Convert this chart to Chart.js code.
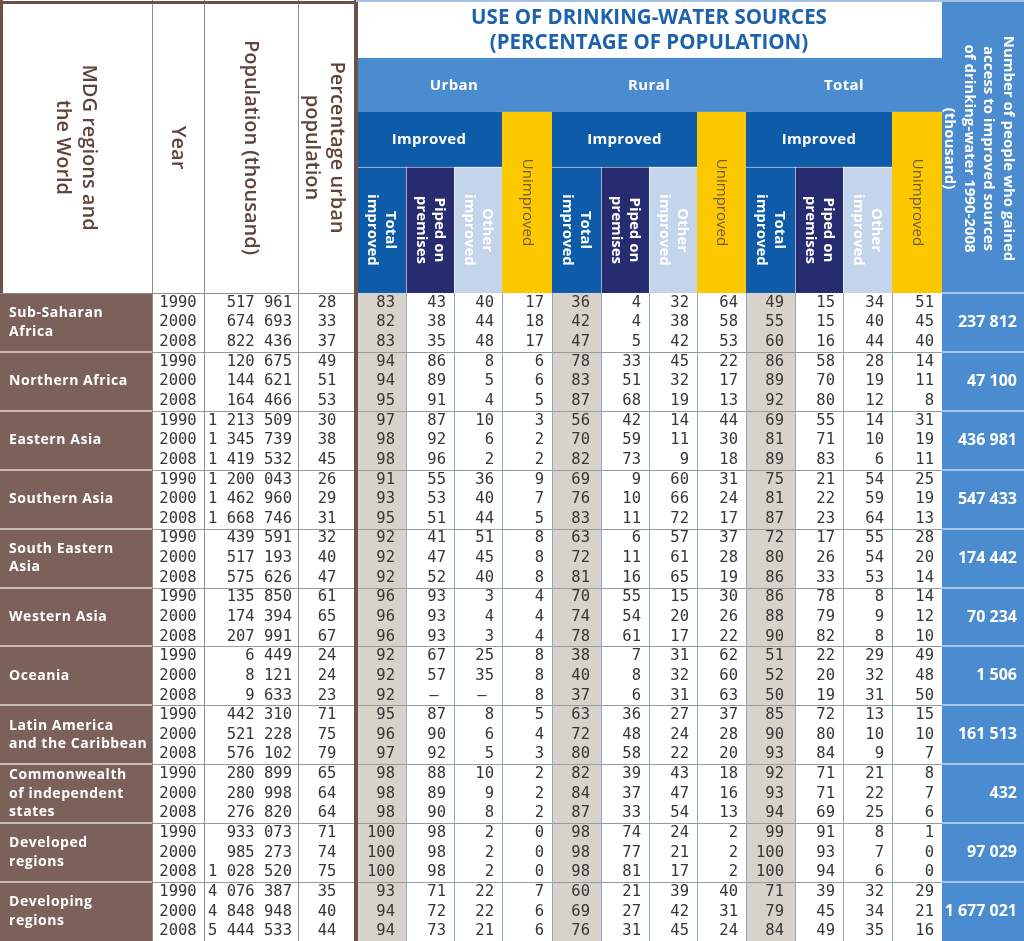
<!DOCTYPE html>
<html>
<head>
<meta charset="utf-8">
<title>Use of drinking-water sources</title>
<script src="https://cdn.jsdelivr.net/npm/chart.js@4.4.1/dist/chart.umd.min.js"></script>
<style>
  html, body { margin: 0; padding: 0; background: #fff; }
  #wrap { width: 1024px; height: 941px; }
</style>
</head>
<body>
<div id="wrap"><canvas id="waterTable" width="1024" height="941"></canvas></div>
<script>
// ===============================
// DATA
// ===============================
const regions = [
  "Sub-Saharan\nAfrica", "Northern Africa", "Eastern Asia", "Southern Asia",
  "South Eastern\nAsia", "Western Asia", "Oceania", "Latin America\nand the Caribbean",
  "Commonwealth\nof independent\nstates", "Developed\nregions", "Developing\nregions"
];
const years = [1990, 2000, 2008];

const population = [517961, 674693, 822436, 120675, 144621, 164466, 1213509, 1345739, 1419532,
  1200043, 1462960, 1668746, 439591, 517193, 575626, 135850, 174394, 207991, 6449, 8121, 9633,
  442310, 521228, 576102, 280899, 280998, 276820, 933073, 985273, 1028520, 4076387, 4848948, 5444533];
const urbanShare = [28, 33, 37, 49, 51, 53, 30, 38, 45, 26, 29, 31, 32, 40, 47, 61, 65, 67,
  24, 24, 23, 71, 75, 79, 65, 64, 64, 71, 74, 75, 35, 40, 44];

const urbanTotal = [83, 82, 83, 94, 94, 95, 97, 98, 98, 91, 93, 95, 92, 92, 92, 96, 96, 96,
  92, 92, 92, 95, 96, 97, 98, 98, 98, 100, 100, 100, 93, 94, 94];
const urbanPiped = [43, 38, 35, 86, 89, 91, 87, 92, 96, 55, 53, 51, 41, 47, 52, 93, 93, 93,
  67, 57, null, 87, 90, 92, 88, 89, 90, 98, 98, 98, 71, 72, 73];
const urbanOther = [40, 44, 48, 8, 5, 4, 10, 6, 2, 36, 40, 44, 51, 45, 40, 3, 4, 3,
  25, 35, null, 8, 6, 5, 10, 9, 8, 2, 2, 2, 22, 22, 21];
const urbanUnimproved = [17, 18, 17, 6, 6, 5, 3, 2, 2, 9, 7, 5, 8, 8, 8, 4, 4, 4,
  8, 8, 8, 5, 4, 3, 2, 2, 2, 0, 0, 0, 7, 6, 6];

const ruralTotal = [36, 42, 47, 78, 83, 87, 56, 70, 82, 69, 76, 83, 63, 72, 81, 70, 74, 78,
  38, 40, 37, 63, 72, 80, 82, 84, 87, 98, 98, 98, 60, 69, 76];
const ruralPiped = [4, 4, 5, 33, 51, 68, 42, 59, 73, 9, 10, 11, 6, 11, 16, 55, 54, 61,
  7, 8, 6, 36, 48, 58, 39, 37, 33, 74, 77, 81, 21, 27, 31];
const ruralOther = [32, 38, 42, 45, 32, 19, 14, 11, 9, 60, 66, 72, 57, 61, 65, 15, 20, 17,
  31, 32, 31, 27, 24, 22, 43, 47, 54, 24, 21, 17, 39, 42, 45];
const ruralUnimproved = [64, 58, 53, 22, 17, 13, 44, 30, 18, 31, 24, 17, 37, 28, 19, 30, 26, 22,
  62, 60, 63, 37, 28, 20, 18, 16, 13, 2, 2, 2, 40, 31, 24];

const totalTotal = [49, 55, 60, 86, 89, 92, 69, 81, 89, 75, 81, 87, 72, 80, 86, 86, 88, 90,
  51, 52, 50, 85, 90, 93, 92, 93, 94, 99, 100, 100, 71, 79, 84];
const totalPiped = [15, 15, 16, 58, 70, 80, 55, 71, 83, 21, 22, 23, 17, 26, 33, 78, 79, 82,
  22, 20, 19, 72, 80, 84, 71, 71, 69, 91, 93, 94, 39, 45, 49];
const totalOther = [34, 40, 44, 28, 19, 12, 14, 10, 6, 54, 59, 64, 55, 54, 53, 8, 9, 8,
  29, 32, 31, 13, 10, 9, 21, 22, 25, 8, 7, 6, 32, 34, 35];
const totalUnimproved = [51, 45, 40, 14, 11, 8, 31, 19, 11, 25, 19, 13, 28, 20, 14, 14, 12, 10,
  49, 48, 50, 15, 10, 7, 8, 7, 6, 1, 0, 0, 29, 21, 16];

const gained = [237812, 47100, 436981, 547433, 174442, 70234, 1506, 161513, 432, 97029, 1677021];

// ===============================
// LAYOUT / STYLE
// ===============================
const C = {
  brown: "#7b615a",
  brownLine: "#6a514a",
  headText: "#60433b",
  title: "#1c62ad",
  midBlue: "#4b8bcf",
  darkBlue: "#0e5ba9",
  navy: "#272b70",
  lightBlue: "#c3d4eb",
  yellow: "#fcc800",
  yellowText: "#6f5c34",
  grey: "#d7d2ca",
  num: "#363636"
};

// column edges on the x scale (layout units)
const colEdges = [0, 152, 204, 298, 356, 406, 454, 502, 552, 601, 649, 697, 746, 795, 843, 892, 942, 1024];
// header bands on the y scale (row units)
const band = { title: 2.95, group: 5.70, improved: 8.50, header: 14.92 };
const rowCount = regions.length * years.length;

const dataCols = [
  urbanTotal, urbanPiped, urbanOther, urbanUnimproved,
  ruralTotal, ruralPiped, ruralOther, ruralUnimproved,
  totalTotal, totalPiped, totalOther, totalUnimproved
];
const groupNames = ["Urban", "Rural", "Total"];

const fmt = (n) => n === null ? "\u2013" : String(n).replace(/\B(?=(\d{3})+(?!\d))/g, " ");

const SANS = "'Open Sans', 'DejaVu Sans', sans-serif";
const MONO = "'DejaVu Sans Mono', monospace";

// ===============================
// PLUGIN QUE DESENHA A TABELA
// ===============================
const tablePlugin = {
  id: "waterTable",
  afterDraw(chart) {
    const ctx = chart.ctx;
    const xs = chart.scales.x;
    const ys = chart.scales.y;
    const X = (v) => xs.getPixelForValue(v);
    const Y = (v) => ys.getPixelForValue(v);

    function rect(x0, x1, y0, y1, color) {
      ctx.fillStyle = color;
      ctx.fillRect(X(x0), Y(y0), X(x1) - X(x0), Y(y1) - Y(y0));
    }
    function hline(x0, x1, y, color, w) {
      const py = Math.round(Y(y)) + (w % 2 ? 0.5 : 0);
      ctx.strokeStyle = color;
      ctx.lineWidth = w;
      ctx.beginPath();
      ctx.moveTo(X(x0), py);
      ctx.lineTo(X(x1), py);
      ctx.stroke();
    }
    function vline(x, y0, y1, color, w) {
      const px = Math.round(X(x)) + (w % 2 ? 0.5 : 0);
      ctx.strokeStyle = color;
      ctx.lineWidth = w;
      ctx.beginPath();
      ctx.moveTo(px, Y(y0));
      ctx.lineTo(px, Y(y1));
      ctx.stroke();
    }
    function text(str, x, y, font, color, align, spacing) {
      ctx.font = font;
      ctx.fillStyle = color;
      ctx.textAlign = align || "center";
      ctx.textBaseline = "middle";
      ctx.letterSpacing = spacing || "0px";
      ctx.fillText(str, x, y);
      ctx.letterSpacing = "0px";
    }
    // rotated text, reading top to bottom
    function vtext(lines, cx, cy, font, color, lineH, spacing) {
      ctx.save();
      ctx.translate(cx, cy);
      ctx.rotate(Math.PI / 2);
      ctx.font = font;
      ctx.fillStyle = color;
      ctx.textAlign = "center";
      ctx.textBaseline = "middle";
      ctx.letterSpacing = spacing || "0px";
      lines.forEach((l, i) => {
        ctx.fillText(l, 0, (i - (lines.length - 1) / 2) * lineH);
      });
      ctx.letterSpacing = "0px";
      ctx.restore();
    }
    const mid = (a, b) => (X(a) + X(b)) / 2;
    const midY = (a, b) => (Y(a) + Y(b)) / 2;

    const top = 0, hb = band.header, bottom = band.header + rowCount;
    const E = colEdges;

    ctx.save();

    // ---------- left header ----------
    rect(E[0], E[4], top, hb, "#ffffff");
    const hFont = "600 20px " + SANS;
    const hy = midY(top, hb) + 1;
    vtext(["MDG regions and", "the World"], mid(E[0], E[1]), hy, hFont, C.headText, 26);
    vtext(["Year"], mid(E[1], E[2]), hy, hFont, C.headText, 26);
    vtext(["Population (thousand)"], mid(E[2], E[3]), hy, hFont, C.headText, 26);
    vtext(["Percentage urban", "population"], mid(E[3], E[4]) - 3, hy, hFont, C.headText, 25);

    // ---------- title ----------
    rect(E[4], E[16], top, band.title, "#ffffff");
    const tFont = "bold 20.5px " + SANS;
    text("USE OF DRINKING-WATER SOURCES", mid(E[4], E[16]), Y(0.95), tFont, C.title);
    text("(PERCENTAGE OF POPULATION)", mid(E[4], E[16]), Y(2.2), tFont, C.title);

    // ---------- group row ----------
    rect(E[4], E[16], band.title, band.group, C.midBlue);
    const bFont = "bold 15px " + SANS;
    groupNames.forEach((g, gi) => {
      const a = E[4 + gi * 4], b = E[8 + gi * 4];
      text(g, (X(a) + X(b)) / 2, midY(band.title, band.group) + 1, bFont, "#ffffff", "center", "0.4px");
    });

    // ---------- improved + sub headers ----------
    groupNames.forEach((g, gi) => {
      const base = 4 + gi * 4;
      rect(E[base], E[base + 3], band.group, band.improved, C.darkBlue);
      text("Improved", mid(E[base], E[base + 3]), midY(band.group, band.improved), bFont, "#ffffff", "center", "0.3px");
      rect(E[base + 3], E[base + 4], band.group, hb, C.yellow);
      vtext(["Unimproved"], mid(E[base + 3], E[base + 4]), midY(band.group, hb), "15px " + SANS, C.yellowText, 18);

      rect(E[base], E[base + 1], band.improved, hb, C.darkBlue);
      rect(E[base + 1], E[base + 2], band.improved, hb, C.navy);
      rect(E[base + 2], E[base + 3], band.improved, hb, C.lightBlue);
      const sy = midY(band.improved, hb);
      vtext(["Total", "improved"], mid(E[base], E[base + 1]), sy, bFont, "#ffffff", 18);
      vtext(["Piped on", "premises"], mid(E[base + 1], E[base + 2]), sy, bFont, "#ffffff", 18);
      vtext(["Other", "improved"], mid(E[base + 2], E[base + 3]), sy, bFont, "#ffffff", 18);
      // white hairlines between subheaders
      vline(E[base + 1], band.improved, hb, "rgba(255,255,255,0.6)", 1);
      vline(E[base + 2], band.improved, hb, "rgba(255,255,255,0.6)", 1);
      hline(E[base], E[base + 3], band.improved, "rgba(255,255,255,0.5)", 1);
    });

    // ---------- last column ----------
    rect(E[16], E[17], top, bottom, C.midBlue);
    vtext(["Number of people who gained", "access to improved sources", "of drinking-water 1990-2008", "(thousand)"],
      mid(E[16], E[17]) - 4, midY(top, hb) + 2, bFont, "#ffffff", 19.5);

    // ---------- data body ----------
    rect(E[0], E[1], hb, bottom, C.brown);
    rect(E[1], E[4], hb, bottom, "#ffffff");
    rect(E[4], E[16], hb, bottom, "#ffffff");
    [0, 4, 8].forEach((o) => rect(E[4 + o], E[5 + o], hb, bottom, C.grey));

    const nFont = "15.5px " + MONO;
    const lFont = "bold 14px " + SANS;
    regions.forEach((name, ri) => {
      const g0 = hb + ri * 3;
      const lines = name.split("\n");
      lines.forEach((l, li) => {
        const yy = midY(g0, g0 + 3) + (li - (lines.length - 1) / 2) * 18.5;
        text(l, X(E[0]) + 9, yy, lFont, "#ffffff", "left", "0.55px");
      });
      text(fmt(gained[ri]), X(E[17]) - 7, midY(g0, g0 + 3), "bold 16px " + SANS, "#ffffff", "right");

      years.forEach((yr, yi) => {
        const r = ri * 3 + yi;
        const yy = midY(hb + r, hb + r + 1);
        text(String(yr), mid(E[1], E[2]), yy, nFont, C.num);
        text(fmt(population[r]), X(E[3]) - 6, yy, nFont, C.num, "right");
        text(String(urbanShare[r]), mid(E[3], E[4]), yy, nFont, C.num);
        dataCols.forEach((vals, ci) => {
          const v = vals[r];
          if (v === null) {
            text(fmt(v), mid(E[4 + ci], E[5 + ci]) + 4, yy, nFont, C.num);
          } else {
            text(fmt(v), X(E[5 + ci]) - (ci % 4 === 0 ? 11 : 8), yy, nFont, C.num, "right");
          }
        });
      });

      // group separators
      if (ri > 0) {
        hline(E[0], E[1], g0, "#c9bbb5", 2);
        hline(E[1], E[16], g0, "#9a9a9a", 1);
        hline(E[16], E[17], g0, "#a9c6e8", 2);
      }
    });

    // vertical grid lines
    for (let i = 2; i <= 3; i++) vline(E[i], top, bottom, "#8c8c8c", 1);
    vline(E[1], top, bottom, "#8c8c8c", 1);
    for (let i = 5; i <= 15; i++) vline(E[i], hb, bottom, "#8ea7c8", 1);

    // header / body separator
    hline(E[0], E[4], hb, "#8c8c8c", 1);
    hline(E[16], E[17], hb, "#a9c6e8", 2);

    // outline of the left block
    vline(E[4], top, bottom, C.brownLine, 4);
    hline(E[0], E[4], top + 0.08, C.brownLine, 3);
    vline(E[0] + 0.8, top, hb, C.brownLine, 3);
    hline(E[4], E[17], top + 0.05, "#a7c2e0", 2);

    ctx.restore();
  }
};

// ===============================
// CHART
// ===============================
const canvas = document.getElementById("waterTable");
new Chart(canvas.getContext("2d"), {
  type: "scatter",
  data: { datasets: [] },
  options: {
    responsive: false,
    animation: false,
    events: [],
    layout: { padding: 0 },
    plugins: { legend: { display: false }, tooltip: { enabled: false } },
    scales: {
      x: { type: "linear", display: false, min: colEdges[0], max: colEdges[colEdges.length - 1] },
      y: { type: "linear", display: false, reverse: true, min: 0, max: band.header + rowCount }
    }
  },
  plugins: [tablePlugin]
});
</script>
</body>
</html>
